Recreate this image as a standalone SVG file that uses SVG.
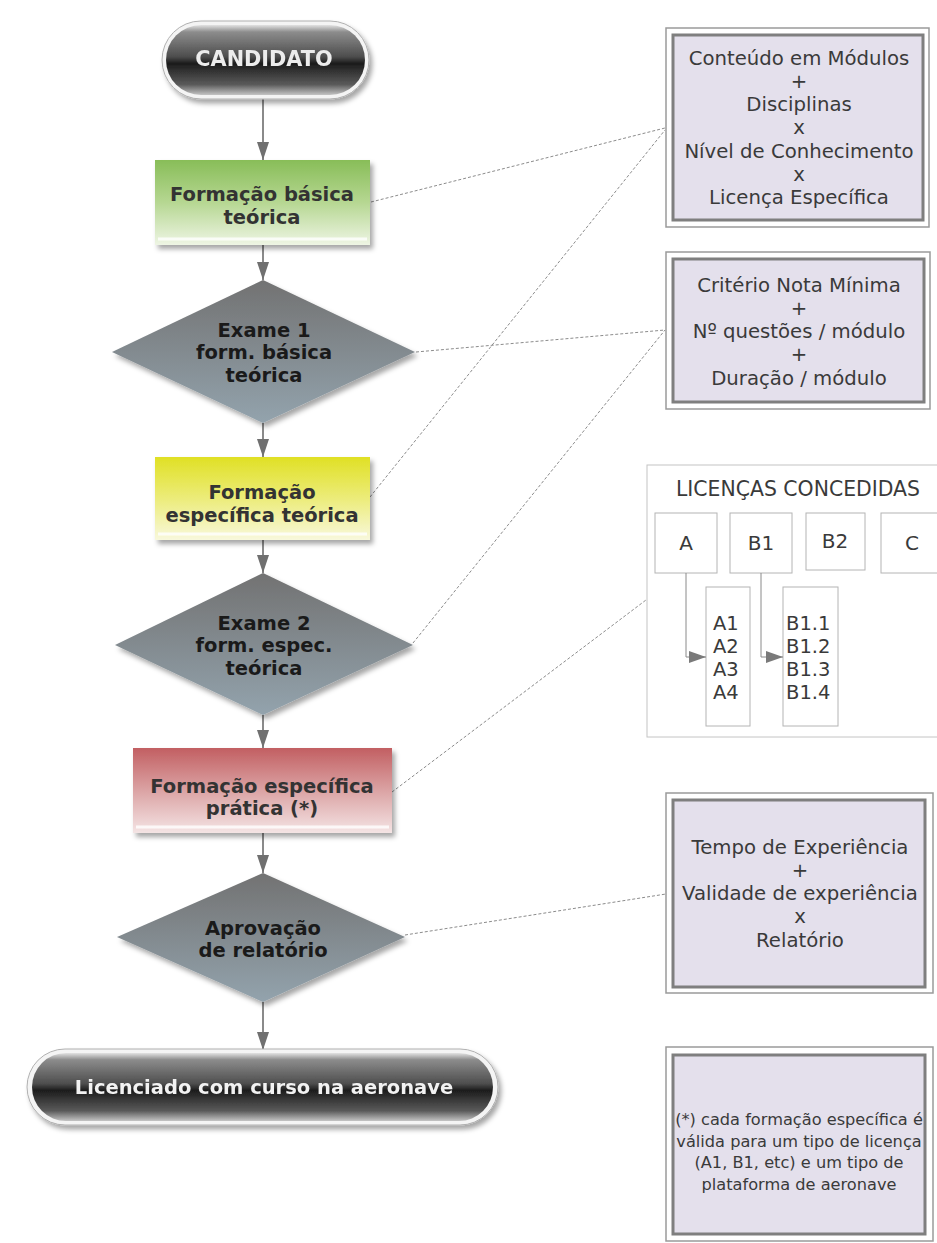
<svg xmlns="http://www.w3.org/2000/svg" width="937" height="1243" viewBox="0 0 937 1243">
<style>
.flow{stroke:#8a8a8a;stroke-width:2;fill:none}
.dot{stroke:#8c8c8c;stroke-width:1;stroke-dasharray:3 2;fill:none}
.thin{stroke:#8a8a8a;stroke-width:1;fill:none}
.bold{font-family:"DejaVu Sans",Verdana,sans-serif;font-weight:bold;font-size:19.5px;text-anchor:middle}
.reg{font-family:"DejaVu Sans",Verdana,sans-serif;font-size:19.7px;text-anchor:middle;fill:#3a3a3a}
.note{font-family:"DejaVu Sans",Verdana,sans-serif;font-size:16.2px;text-anchor:middle;fill:#3a3a3a}
.lic{font-family:"DejaVu Sans",Verdana,sans-serif;font-size:19.5px;fill:#3a3a3a}
.boxtxt{fill:#333}
.dtxt{fill:#1a1a1a}
.outer{fill:#ffffff;stroke:#9a9a9a;stroke-width:1.5}
.inner{fill:#e4e0ec;stroke:#7f7f7f;stroke-width:3}
.lbox{fill:#ffffff;stroke:#c4c4c4;stroke-width:1}
.sbox{fill:#ffffff;stroke:#b4b4b4;stroke-width:1}
</style>
<defs>
<marker id="arr" viewBox="0 0 18 12" refX="18" refY="6" markerWidth="18" markerHeight="12" markerUnits="userSpaceOnUse" orient="auto">
<path d="M0,0 L18,6 L0,12 z" fill="#707070"/>
</marker>
<marker id="arrs" viewBox="0 0 17 12" refX="17" refY="6" markerWidth="17" markerHeight="12" markerUnits="userSpaceOnUse" orient="auto">
<path d="M0,0 L17,6 L0,12 z" fill="#7a7a7a"/>
</marker>
<filter id="sh" x="-10%" y="-10%" width="130%" height="140%">
<feDropShadow dx="3" dy="4" stdDeviation="2.5" flood-color="#000" flood-opacity="0.35"/>
</filter>
<linearGradient id="gGreen" x1="0" y1="0" x2="0" y2="1">
<stop offset="0" stop-color="#88bd58"/><stop offset="0.5" stop-color="#b6d792"/><stop offset="1" stop-color="#eef5e4"/>
</linearGradient>
<linearGradient id="gYellow" x1="0" y1="0" x2="0" y2="1">
<stop offset="0" stop-color="#e0e024"/><stop offset="0.5" stop-color="#ecec7a"/><stop offset="1" stop-color="#f8f8dc"/>
</linearGradient>
<linearGradient id="gRed" x1="0" y1="0" x2="0" y2="1">
<stop offset="0" stop-color="#c25f62"/><stop offset="0.5" stop-color="#dba3a4"/><stop offset="1" stop-color="#f4e4e4"/>
</linearGradient>
<linearGradient id="gDia" x1="0" y1="0" x2="0" y2="1">
<stop offset="0" stop-color="#727272"/><stop offset="1" stop-color="#93a3ad"/>
</linearGradient>
<linearGradient id="gPill" x1="0" y1="0" x2="0" y2="1">
<stop offset="0" stop-color="#e2e2e2"/><stop offset="0.1" stop-color="#8c8c8c"/><stop offset="0.45" stop-color="#4e4e4e"/><stop offset="0.55" stop-color="#1c1c1c"/><stop offset="0.85" stop-color="#5a5a5a"/><stop offset="1" stop-color="#c4c4c4"/>
</linearGradient>
</defs>

<g id="connectors">
<line class="flow" x1="263" y1="99" x2="263" y2="160" marker-end="url(#arr)"/>
<line class="flow" x1="263" y1="245" x2="263" y2="280" marker-end="url(#arr)"/>
<line class="flow" x1="263" y1="423" x2="263" y2="457" marker-end="url(#arr)"/>
<line class="flow" x1="263" y1="540" x2="263" y2="573" marker-end="url(#arr)"/>
<line class="flow" x1="263" y1="715" x2="263" y2="748" marker-end="url(#arr)"/>
<line class="flow" x1="263" y1="833" x2="263" y2="873" marker-end="url(#arr)"/>
<line class="flow" x1="263" y1="1002" x2="263" y2="1050" marker-end="url(#arr)"/>
<line class="dot" x1="371" y1="202" x2="665" y2="128"/>
<line class="dot" x1="370" y1="497" x2="665" y2="130"/>
<line class="dot" x1="416" y1="352" x2="665" y2="330"/>
<line class="dot" x1="413" y1="643" x2="665" y2="330"/>
<line class="dot" x1="392" y1="792" x2="646" y2="600"/>
<line class="dot" x1="405" y1="935" x2="666" y2="894"/>
</g>

<g id="candidato" filter="url(#sh)">
<rect x="162" y="21" width="207" height="78" rx="39" fill="#f4f4f4" stroke="#b0b0b0" stroke-width="1"/>
<rect x="166" y="25" width="199" height="70" rx="35" fill="url(#gPill)"/>
<text class="bold" x="264" y="66" style="font-size:20.8px" fill="#ececec">CANDIDATO</text>
</g>

<g id="formacao-basica">
<rect x="155" y="160" width="215" height="85" fill="url(#gGreen)" filter="url(#sh)"/>
<line x1="158" y1="239" x2="367" y2="239" stroke="#ffffff" stroke-width="3" opacity="0.8"/>
<text class="bold boxtxt" x="262" y="201">Formação básica</text>
<text class="bold boxtxt" x="262" y="224">teórica</text>
</g>

<g id="exame1">
<polygon points="263,280 415,352 263,423 112,352" fill="url(#gDia)" filter="url(#sh)"/>
<text class="bold dtxt" x="264" y="337">Exame 1</text>
<text class="bold dtxt" x="264" y="359">form. básica</text>
<text class="bold dtxt" x="264" y="382">teórica</text>
</g>

<g id="formacao-especifica-teorica">
<rect x="155" y="457" width="215" height="83" fill="url(#gYellow)" filter="url(#sh)"/>
<line x1="158" y1="534" x2="367" y2="534" stroke="#ffffff" stroke-width="3" opacity="0.8"/>
<text class="bold boxtxt" x="262" y="499">Formação</text>
<text class="bold boxtxt" x="262" y="522">específica teórica</text>
</g>

<g id="exame2">
<polygon points="263,573 413,645 263,715 115,645" fill="url(#gDia)" filter="url(#sh)"/>
<text class="bold dtxt" x="264" y="630">Exame 2</text>
<text class="bold dtxt" x="264" y="652">form. espec.</text>
<text class="bold dtxt" x="264" y="675">teórica</text>
</g>

<g id="formacao-especifica-pratica">
<rect x="133" y="748" width="259" height="85" fill="url(#gRed)" filter="url(#sh)"/>
<line x1="136" y1="827" x2="389" y2="827" stroke="#ffffff" stroke-width="3" opacity="0.8"/>
<text class="bold boxtxt" x="262" y="793">Formação específica</text>
<text class="bold boxtxt" x="262" y="815">prática (*)</text>
</g>

<g id="aprovacao">
<polygon points="263,873 405,937 263,1002 117,937" fill="url(#gDia)" filter="url(#sh)"/>
<text class="bold dtxt" x="263" y="935">Aprovação</text>
<text class="bold dtxt" x="263" y="957">de relatório</text>
</g>

<g id="licenciado" filter="url(#sh)">
<rect x="27" y="1049" width="471" height="76" rx="38" fill="#f4f4f4" stroke="#b0b0b0" stroke-width="1"/>
<rect x="32" y="1053" width="461" height="68" rx="34" fill="url(#gPill)"/>
<text class="bold" x="264" y="1094" fill="#f2f2f2">Licenciado com curso na aeronave</text>
</g>

<g id="conteudo">
<rect class="outer" x="666" y="28" width="263" height="199"/>
<rect class="inner" x="673" y="35" width="250" height="185"/>
<text class="reg" x="799" y="65">Conteúdo em Módulos</text>
<text class="reg" x="799" y="88">+</text>
<text class="reg" x="799" y="111">Disciplinas</text>
<text class="reg" x="799" y="134">x</text>
<text class="reg" x="799" y="158">Nível de Conhecimento</text>
<text class="reg" x="799" y="181">x</text>
<text class="reg" x="799" y="204">Licença Específica</text>
</g>

<g id="criterio">
<rect class="outer" x="666" y="252" width="264" height="157"/>
<rect class="inner" x="673" y="259" width="251" height="143"/>
<text class="reg" x="799" y="292">Critério Nota Mínima</text>
<text class="reg" x="799" y="315">+</text>
<text class="reg" x="799" y="338">Nº questões / módulo</text>
<text class="reg" x="799" y="361">+</text>
<text class="reg" x="799" y="385">Duração / módulo</text>
</g>

<g id="licencas">
<rect class="lbox" x="647" y="465" width="300" height="272"/>
<text class="lic" x="798" y="496" text-anchor="middle" style="font-size:20.4px">LICENÇAS CONCEDIDAS</text>
<rect class="sbox" x="655" y="513" width="62" height="60"/>
<rect class="sbox" x="730" y="513" width="62" height="60"/>
<rect class="sbox" x="806" y="513" width="59" height="57"/>
<rect class="sbox" x="881" y="513" width="62" height="60"/>
<text class="lic" x="686" y="550" text-anchor="middle" style="font-size:20px">A</text>
<text class="lic" x="761" y="550" text-anchor="middle" style="font-size:20px">B1</text>
<text class="lic" x="835" y="548" text-anchor="middle" style="font-size:20px">B2</text>
<text class="lic" x="912" y="550" text-anchor="middle" style="font-size:20px">C</text>
<rect class="sbox" x="706" y="587" width="44" height="139"/>
<rect class="sbox" x="783" y="587" width="55" height="139"/>
<path class="thin" d="M686,573 V657 H706" marker-end="url(#arrs)"/>
<path class="thin" d="M761,573 V657 H783" marker-end="url(#arrs)"/>
<text class="lic" x="713" y="630">A1</text>
<text class="lic" x="713" y="653">A2</text>
<text class="lic" x="713" y="676">A3</text>
<text class="lic" x="713" y="699">A4</text>
<text class="lic" x="786" y="630">B1.1</text>
<text class="lic" x="786" y="653">B1.2</text>
<text class="lic" x="786" y="676">B1.3</text>
<text class="lic" x="786" y="699">B1.4</text>
</g>

<g id="experiencia">
<rect class="outer" x="666" y="793" width="267" height="200"/>
<rect class="inner" x="673" y="800" width="252" height="187"/>
<text class="reg" x="800" y="854">Tempo de Experiência</text>
<text class="reg" x="800" y="877">+</text>
<text class="reg" x="800" y="900">Validade de experiência</text>
<text class="reg" x="800" y="923">x</text>
<text class="reg" x="800" y="947">Relatório</text>
</g>

<g id="nota">
<rect class="outer" x="666" y="1047" width="267" height="194"/>
<rect class="inner" x="673" y="1055" width="252" height="179"/>
<text class="note" x="799" y="1125">(*) cada formação específica é</text>
<text class="note" x="799" y="1147">válida para um tipo de licença</text>
<text class="note" x="799" y="1168">(A1, B1, etc) e um tipo de</text>
<text class="note" x="799" y="1190">plataforma de aeronave</text>
</g>
</svg>
